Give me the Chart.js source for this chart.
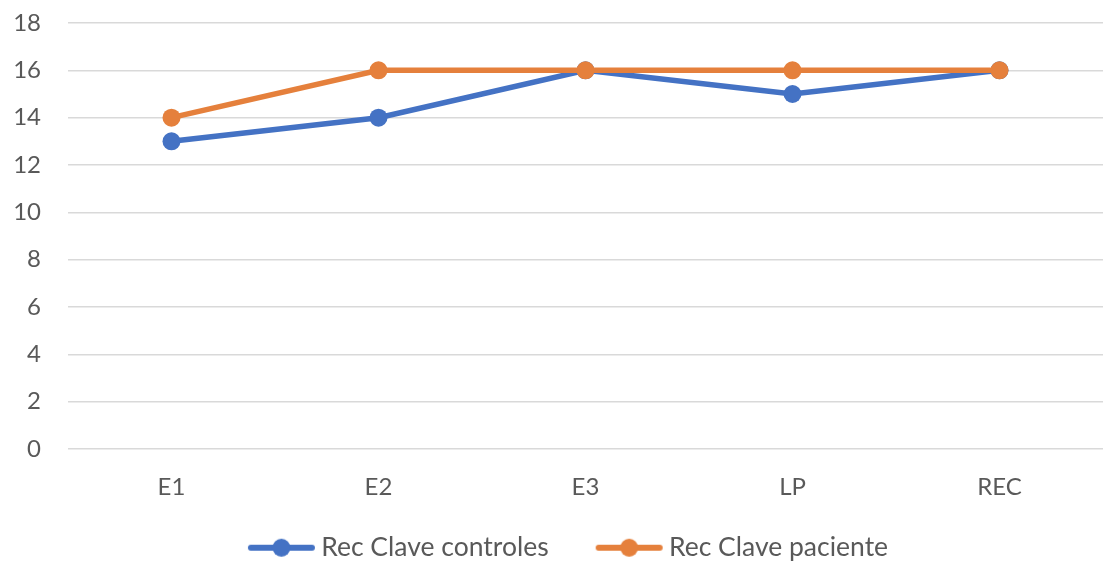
<!DOCTYPE html>
<html>
<head>
<meta charset="utf-8">
<script src="https://cdn.jsdelivr.net/npm/chart.js@4"></script>
<style>
  html, body { margin: 0; padding: 0; background: #fff; overflow: hidden; }
  #wrap { width: 1112px; height: 565px; }
</style>
</head>
<body>
<div id="wrap"><canvas id="c" width="1112" height="565"></canvas></div>
<script>
const categories = ['E1', 'E2', 'E3', 'LP', 'REC'];
const controles = [13, 14, 16, 15, 16];
const paciente = [14, 16, 16, 16, 16];
const yTicks = [0, 2, 4, 6, 8, 10, 12, 14, 16, 18];

const BLUE = '#4472C4';
const ORANGE = '#E5803C';
const TEXT = '#595959';
const FONT = 'Lato, "Open Sans", sans-serif';

// Legend marker: a short line with a dot, drawn into a small canvas
function legendMarker(color) {
  const w = 100, h = 20;
  const cv = document.createElement('canvas');
  cv.width = w; cv.height = h;
  const g = cv.getContext('2d');
  g.strokeStyle = color;
  g.lineWidth = 6;
  g.lineCap = 'round';
  g.beginPath();
  g.moveTo(35, h / 2);
  g.lineTo(96, h / 2);
  g.stroke();
  g.fillStyle = color;
  g.beginPath();
  g.arc(65.5, h / 2, 9, 0, Math.PI * 2);
  g.fill();
  return cv;
}
const markers = [legendMarker(BLUE), legendMarker(ORANGE)];

new Chart(document.getElementById('c'), {
  type: 'line',
  data: {
    labels: categories,
    datasets: [
      {
        label: 'Rec Clave controles',
        data: controles,
        borderColor: BLUE,
        backgroundColor: BLUE,
        borderWidth: 5.5,
        pointRadius: 9,
        pointBorderWidth: 0,
        pointBackgroundColor: BLUE,
        tension: 0,
        order: 1
      },
      {
        label: 'Rec Clave paciente',
        data: paciente,
        borderColor: ORANGE,
        backgroundColor: ORANGE,
        borderWidth: 5.5,
        pointRadius: 9,
        pointBorderWidth: 0,
        pointBackgroundColor: ORANGE,
        tension: 0,
        order: 0
      }
    ]
  },
  options: {
    responsive: false,
    animation: false,
    events: [],
    layout: { padding: { top: 23, left: 0, right: 0, bottom: -6 } },
    plugins: {
      tooltip: { enabled: false },
      legend: {
        position: 'bottom',
        labels: {
          usePointStyle: true,
          pointStyleWidth: 84,
          padding: 23,
          color: TEXT,
          font: { family: FONT, size: 26.5 },
          generateLabels(chart) {
            const items = Chart.defaults.plugins.legend.labels.generateLabels(chart);
            items.sort((a, b) => a.datasetIndex - b.datasetIndex);
            items.forEach(it => { it.pointStyle = markers[it.datasetIndex]; });
            return items;
          }
        }
      }
    },
    scales: {
      x: {
        offset: true,
        grid: { display: false },
        border: { display: false },
        ticks: { color: TEXT, font: { family: FONT, size: 24 }, padding: 15.5 },
        afterFit(s) { s.height = 62.5; }
      },
      y: {
        min: 0,
        max: 18,
        afterBuildTicks(s) { s.ticks = yTicks.map(v => ({ value: v })); },
        grid: { color: '#D9D9D9', lineWidth: 1.5, drawTicks: false },
        border: { display: false },
        ticks: { color: TEXT, font: { family: FONT, size: 24 }, padding: 27 },
        afterFit(s) { s.width = 68; s.paddingTop = 0; s.paddingBottom = 0; }
      }
    }
  }
});
</script>
</body>
</html>
